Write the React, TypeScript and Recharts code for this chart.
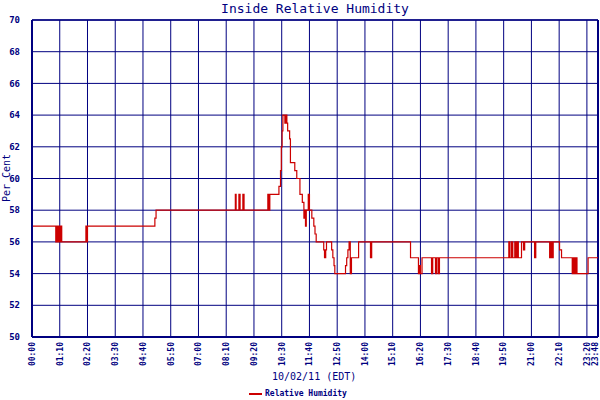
import { CartesianGrid, Line, LineChart, ReferenceLine, XAxis, YAxis } from "recharts";

// minutes after midnight, 10/02/11
const minutes = [
  0, 60, 62, 64, 67, 69, 72, 75, 136, 138, 140, 310, 313,
  513, 515, 522, 525, 532, 535, 595, 598, 600, 623, 627, 629, 631, 633,
  638, 640, 643, 645, 650, 652, 663, 668, 676, 682, 686, 688, 690, 692,
  697, 700, 706, 711, 714, 717, 736, 738, 741, 743, 756, 759, 762, 764,
  791, 794, 797, 800, 803, 806, 824, 854, 857, 955, 975, 978, 980, 984,
  1008, 1011, 1018, 1021, 1025, 1028, 1203, 1206, 1210, 1213, 1218, 1221,
  1224, 1227, 1235, 1240, 1243, 1268, 1271, 1306, 1309, 1312, 1315, 1331,
  1336, 1363, 1366, 1369, 1372, 1375, 1403, 1428,
];

// relative humidity, per cent
const humidity = [
  57, 56, 57, 56, 57, 56, 57, 56, 57, 56, 57, 57.5, 58,
  59, 58, 59, 58, 59, 58, 59, 58, 59, 59.5, 60.5, 62, 63, 64,
  63.5, 64, 63.5, 63, 62.5, 61, 60.5, 60, 59, 58.5, 57.5, 58, 57, 58,
  59, 58, 57.5, 57, 56.5, 56, 55.5, 55, 55.5, 56, 55.5, 55, 54.5, 54,
  54.5, 55, 55.5, 56, 54, 55, 56, 55, 56, 55, 54, 54.5, 54, 55,
  54, 55, 54, 55, 54, 55, 56, 55, 56, 55, 56, 55,
  56, 55, 56, 55.5, 56, 55, 56, 55, 56, 55, 56, 55.5,
  55, 54, 55, 54, 55, 54, 55, 55,
];

const xTicks = [
  0, 70, 140, 210, 280, 350, 420, 490, 560, 630, 700, 770, 840, 910, 980,
  1050, 1120, 1190, 1260, 1330, 1400, 1428,
];
const yTicks = [50, 52, 54, 56, 58, 60, 62, 64, 66, 68, 70];

const NAVY = "#000080";
const RED = "#cc0000";
const MONO = "'DejaVu Sans Mono', monospace";

const data = minutes.map((m, i) => ({ m, rh: humidity[i] }));

const fmtTime = (m: number) =>
  `${String(Math.floor(m / 60)).padStart(2, "0")}:${String(m % 60).padStart(2, "0")}`;

const TimeTick = ({ x, y, payload }: any) => {
  // last label sits on the right border, nudge it inside
  const tx = payload.value === 1428 ? x - 3 : x;
  return (
    <text
      x={tx}
      y={y}
      transform={`rotate(-90 ${tx} ${y})`}
      textAnchor="end"
      dy="0.35em"
      fill={NAVY}
      fontSize={8}
      fontWeight="bold"
      fontFamily={MONO}
    >
      {fmtTime(payload.value)}
    </text>
  );
};

const App = () => {
  return (
    <div style={{ position: "absolute", left: 0, top: 0, width: 600, height: 400, background: "#fff" }}>
      <div
        style={{
          position: "absolute",
          left: 32,
          width: 566,
          top: 1,
          textAlign: "center",
          color: NAVY,
          fontFamily: MONO,
          fontSize: 13,
        }}
      >
        Inside Relative Humidity
      </div>

      <LineChart width={600} height={400} data={data} margin={{ top: 20, right: 2, bottom: 23, left: 0 }}>
        <CartesianGrid stroke={NAVY} strokeOpacity={1} strokeWidth={1} />
        <XAxis
          dataKey="m"
          type="number"
          domain={[0, 1428]}
          ticks={xTicks}
          interval={0}
          height={40}
          tickLine={false}
          tickSize={0}
          tickMargin={5}
          tick={<TimeTick />}
          axisLine={{ stroke: NAVY, strokeWidth: 2 }}
        />
        <YAxis
          type="number"
          domain={[50, 70]}
          ticks={yTicks}
          interval={0}
          width={32}
          tickLine={false}
          tickMargin={6}
          tick={{ fill: NAVY, fontSize: 9, fontWeight: "bold", fontFamily: MONO }}
          axisLine={{ stroke: NAVY, strokeWidth: 2 }}
          label={{
            content: () => (
              <text
                x={6}
                y={178}
                transform="rotate(-90 6 178)"
                textAnchor="middle"
                dy="0.35em"
                fill={NAVY}
                fontSize={10}
                fontFamily={MONO}
              >
                Per Cent
              </text>
            ),
          }}
        />
        <ReferenceLine x={1428} stroke={NAVY} strokeWidth={2} />
        <ReferenceLine y={70} stroke={NAVY} strokeWidth={1.5} />
        <Line
          type="stepAfter"
          dataKey="rh"
          stroke={RED}
          strokeWidth={1.2}
          dot={false}
          isAnimationActive={false}
        />
      </LineChart>

      <div
        style={{
          position: "absolute",
          left: 272,
          top: 371,
          color: NAVY,
          fontFamily: MONO,
          fontSize: 10,
          whiteSpace: "nowrap",
        }}
      >
        10/02/11 (EDT)
      </div>

      <div style={{ position: "absolute", left: 249, top: 389, display: "flex", alignItems: "center", gap: 3 }}>
        <div style={{ width: 13, height: 2, background: RED }}></div>
        <span style={{ color: NAVY, fontFamily: MONO, fontSize: 8, fontWeight: "bold" }}>Relative Humidity</span>
      </div>
    </div>
  );
};

export default App;
